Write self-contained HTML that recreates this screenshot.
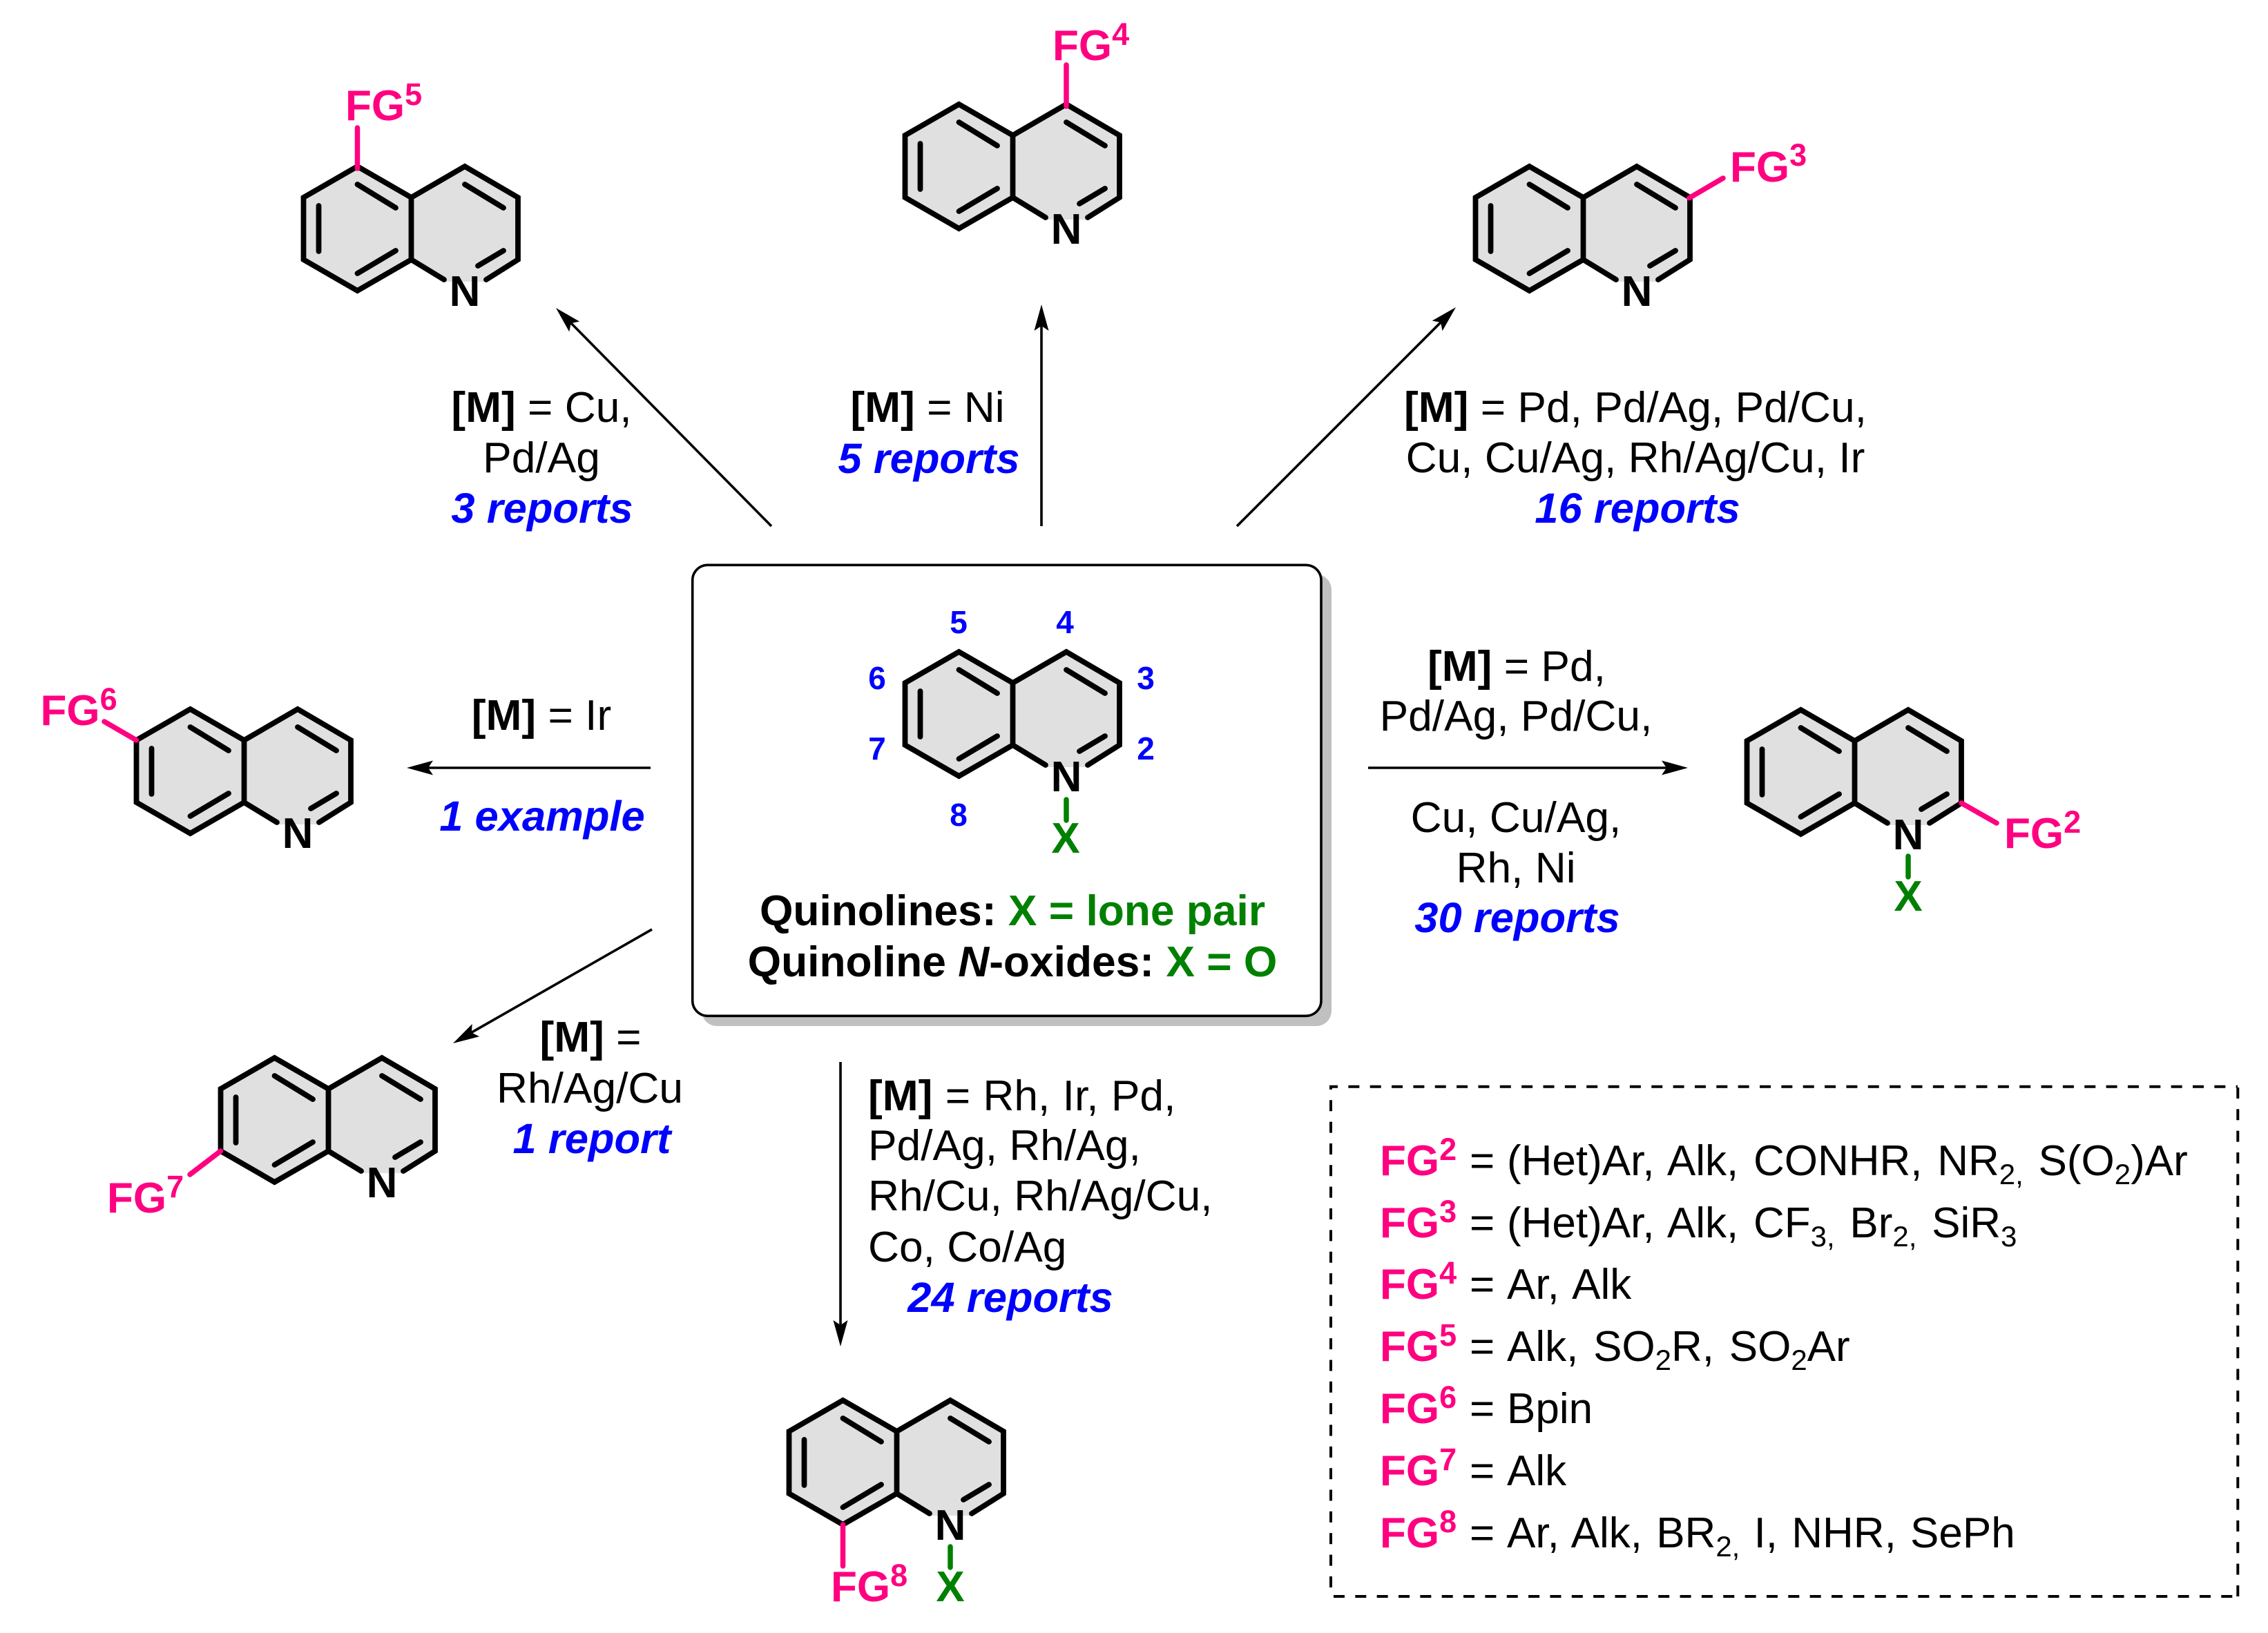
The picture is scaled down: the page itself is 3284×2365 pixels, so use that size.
<!DOCTYPE html>
<html><head><meta charset="utf-8"><style>
html,body{margin:0;padding:0;background:#fff;width:3284px;height:2365px;overflow:hidden}
svg{display:block}
text{font-family:"Liberation Sans",Arial,sans-serif;font-size:62.3px;fill:#000}
.b{font-weight:bold}
.c{text-anchor:middle}
.r{font-weight:bold;font-style:italic;fill:#0000ff;font-size:61.5px;text-anchor:middle}
.fg{font-weight:bold;fill:#ff0080;font-size:62px}
.fg tspan{font-size:45px}
.n{font-weight:bold;font-size:62px;text-anchor:middle}
.x{font-weight:bold;font-size:62px;text-anchor:middle;fill:#008000}
.d{font-weight:bold;font-size:46px;text-anchor:middle;fill:#0000ff}
.g{fill:#008000}
.l{font-size:62px;word-spacing:4.5px}
.l .s{font-size:42px}
.p{stroke:#ff0080;stroke-width:7.5;stroke-linecap:round;fill:none}
.gb{stroke:#008000;stroke-width:7.5;stroke-linecap:round;fill:none}
.a{stroke:#000;stroke-width:3.6;fill:none}
.da{stroke:#000;stroke-width:4;fill:none;stroke-dasharray:16 15.35}
</style></head><body>
<svg xmlns="http://www.w3.org/2000/svg" width="3284" height="2365" viewBox="0 0 3284 2365">
<defs>
<g id="q">
<path d="M77,45 L0,0 L-77.5,45 L-155.5,0 L-233.5,45 L-233.5,135 L-155.5,180 L-77.5,135 L-28,167 L28,167 L77,135 Z" fill="#e0e0e0"/>
<path d="M31,164 L77,135 L77,45 L0,0 L-77.5,45 L-155.5,0 L-233.5,45 L-233.5,135 L-155.5,180 L-77.5,135 L-30,164 M-77.5,45 L-77.5,135" fill="none" stroke="#000" stroke-width="7.8" stroke-linecap="round" stroke-linejoin="miter"/>
<path d="M0,26 L56,60 M56,122 L19,144 M-155.5,26 L-100,60 M-155.5,155 L-100,122 M-211.5,57 L-211.5,123" fill="none" stroke="#000" stroke-width="7.8" stroke-linecap="round"/>
</g>
<polygon id="h" points="0,0 -38,-10.5 -31,0 -38,10.5" fill="#000"/>
</defs>

<!-- centre box -->
<rect x="1016" y="832" width="912" height="654" rx="22" fill="#c0c0c0"/>
<rect x="1002.7" y="818.3" width="910.3" height="653" rx="22" fill="#fff" stroke="#000" stroke-width="3.6"/>

<!-- molecules -->
<use href="#q" x="1544" y="944"/>
<use href="#q" x="673" y="241"/>
<use href="#q" x="1544" y="151"/>
<use href="#q" x="2370" y="241"/>
<use href="#q" x="431" y="1027"/>
<use href="#q" x="553" y="1532"/>
<use href="#q" x="1376" y="2028"/>
<use href="#q" x="2763" y="1028"/>

<text class="n" x="1544" y="1146">N</text>
<text class="n" x="673" y="443">N</text>
<text class="n" x="1544" y="353">N</text>
<text class="n" x="2370" y="443">N</text>
<text class="n" x="431" y="1228">N</text>
<text class="n" x="553" y="1734">N</text>
<text class="n" x="1376" y="2230">N</text>
<text class="n" x="2763" y="1230">N</text>

<!-- X -->
<path class="gb" d="M1544,1158 V1188 M1376,2240 V2270 M2763,1240 V1270"/>
<text class="x" x="1543" y="1235">X</text>
<text class="x" x="1376" y="2319">X</text>
<text class="x" x="2763" y="1319">X</text>

<!-- position numbers -->
<text class="d" x="1388" y="917">5</text>
<text class="d" x="1542" y="917">4</text>
<text class="d" x="1270" y="998">6</text>
<text class="d" x="1659" y="998">3</text>
<text class="d" x="1270" y="1100">7</text>
<text class="d" x="1659" y="1100">2</text>
<text class="d" x="1388" y="1196">8</text>

<text class="b c" x="1466" y="1340">Quinolines: <tspan class="g">X = lone pair</tspan></text>
<text class="b c" x="1466" y="1414">Quinoline <tspan font-style="italic">N</tspan>-oxides: <tspan class="g">X = O</tspan></text>

<!-- FG bonds -->
<path class="p" d="M517.5,244 V185 M1544,154 V94 M2446,286.7 L2495,258 M197.5,1072 L151,1045 M319.5,1667 L275,1701 M1220.5,2208 V2268 M2840,1163 L2891,1192"/>

<!-- FG labels -->
<text class="fg" x="500" y="174">FG<tspan dy="-22">5</tspan></text>
<text class="fg" x="1524" y="87">FG<tspan dy="-22">4</tspan></text>
<text class="fg" x="2505" y="263">FG<tspan dy="-23">3</tspan></text>
<text class="fg" x="58.5" y="1050">FG<tspan dy="-22">6</tspan></text>
<text class="fg" x="155" y="1756">FG<tspan dy="-22">7</tspan></text>
<text class="fg" x="1203" y="2319">FG<tspan dy="-22">8</tspan></text>
<text class="fg" x="2902" y="1228">FG<tspan dy="-22">2</tspan></text>

<!-- arrows -->
<path class="a" d="M1117,762 L819,460 M1508,762 V468 M1791,762 L2094,459 M942,1112 H612 M944,1346 L678,1498 M1981,1112 H2416 M1217,1538 V1920"/>
<use href="#h" transform="translate(805,446) rotate(-134.6)"/>
<use href="#h" transform="translate(1508,441) rotate(-90)"/>
<use href="#h" transform="translate(2108,445) rotate(-45)"/>
<use href="#h" transform="translate(589,1112) rotate(180)"/>
<use href="#h" transform="translate(656,1511) rotate(150.1)"/>
<use href="#h" transform="translate(2444,1112)"/>
<use href="#h" transform="translate(1217,1950) rotate(90)"/>

<!-- conditions -->
<text class="c" x="784" y="611"><tspan class="b">[M]</tspan> = Cu,</text>
<text class="c" x="784" y="684">Pd/Ag</text>
<text class="r" x="785" y="757">3 reports</text>

<text class="c" x="1343" y="611"><tspan class="b">[M]</tspan> = Ni</text>
<text class="r" x="1345" y="685">5 reports</text>

<text class="c" x="2368" y="611"><tspan class="b">[M]</tspan> = Pd, Pd/Ag, Pd/Cu,</text>
<text class="c" x="2368" y="684">Cu, Cu/Ag, Rh/Ag/Cu, Ir</text>
<text class="r" x="2371" y="757">16 reports</text>

<text class="c" x="784" y="1057"><tspan class="b">[M]</tspan> = Ir</text>
<text class="r" x="785" y="1203">1 example</text>

<text class="c" x="855" y="1523"><tspan class="b">[M]</tspan> =</text>
<text class="c" x="854" y="1597">Rh/Ag/Cu</text>
<text class="r" x="857" y="1670">1 report</text>

<text class="c" x="2196" y="986"><tspan class="b">[M]</tspan> = Pd,</text>
<text class="c" x="2195" y="1058">Pd/Ag, Pd/Cu,</text>
<text class="c" x="2195" y="1205">Cu, Cu/Ag,</text>
<text class="c" x="2195" y="1278">Rh, Ni</text>
<text class="r" x="2197" y="1350">30 reports</text>

<text x="1257" y="1608" word-spacing="1"><tspan class="b">[M]</tspan> = Rh, Ir, Pd,</text>
<text x="1257" y="1680">Pd/Ag, Rh/Ag,</text>
<text x="1257" y="1753">Rh/Cu, Rh/Ag/Cu,</text>
<text x="1257" y="1827">Co, Co/Ag</text>
<text class="r" x="1463" y="1900">24 reports</text>

<!-- legend -->
<path class="da" d="M1925,1573.7 H3240" stroke-dashoffset="4"/>
<path class="da" d="M1927,1572 V2312" stroke-dashoffset="10.1"/>
<path class="da" d="M3240.3,2312 V1573.7"/>
<path class="da" d="M3232.3,2312 H1925"/>

<text class="fg" x="1998" y="1702">FG<tspan dy="-22">2</tspan></text>
<text class="l" x="2128" y="1702">=<tspan x="2182">(Het)Ar, Alk, CONHR, NR</tspan><tspan class="s" dy="13">2,</tspan><tspan dy="-13"> S(O</tspan><tspan class="s" dy="13">2</tspan><tspan dy="-13">)Ar</tspan></text>
<text class="fg" x="1998" y="1792">FG<tspan dy="-22">3</tspan></text>
<text class="l" x="2128" y="1792">=<tspan x="2182">(Het)Ar, Alk, CF</tspan><tspan class="s" dy="13">3,</tspan><tspan dy="-13"> Br</tspan><tspan class="s" dy="13">2,</tspan><tspan dy="-13"> SiR</tspan><tspan class="s" dy="13">3</tspan></text>
<text class="fg" x="1998" y="1881">FG<tspan dy="-22">4</tspan></text>
<text class="l" x="2128" y="1881">=<tspan x="2182">Ar, Alk</tspan></text>
<text class="fg" x="1998" y="1971">FG<tspan dy="-22">5</tspan></text>
<text class="l" x="2128" y="1971">=<tspan x="2182">Alk, SO</tspan><tspan class="s" dy="13">2</tspan><tspan dy="-13">R, SO</tspan><tspan class="s" dy="13">2</tspan><tspan dy="-13">Ar</tspan></text>
<text class="fg" x="1998" y="2061">FG<tspan dy="-22">6</tspan></text>
<text class="l" x="2128" y="2061">=<tspan x="2182">Bpin</tspan></text>
<text class="fg" x="1998" y="2151">FG<tspan dy="-22">7</tspan></text>
<text class="l" x="2128" y="2151">=<tspan x="2182">Alk</tspan></text>
<text class="fg" x="1998" y="2241">FG<tspan dy="-22">8</tspan></text>
<text class="l" x="2128" y="2241" style="word-spacing:3px">=<tspan x="2182">Ar, Alk, BR</tspan><tspan class="s" dy="13">2,</tspan><tspan dy="-13"> I, NHR, SePh</tspan></text>
</svg>
</body></html>
